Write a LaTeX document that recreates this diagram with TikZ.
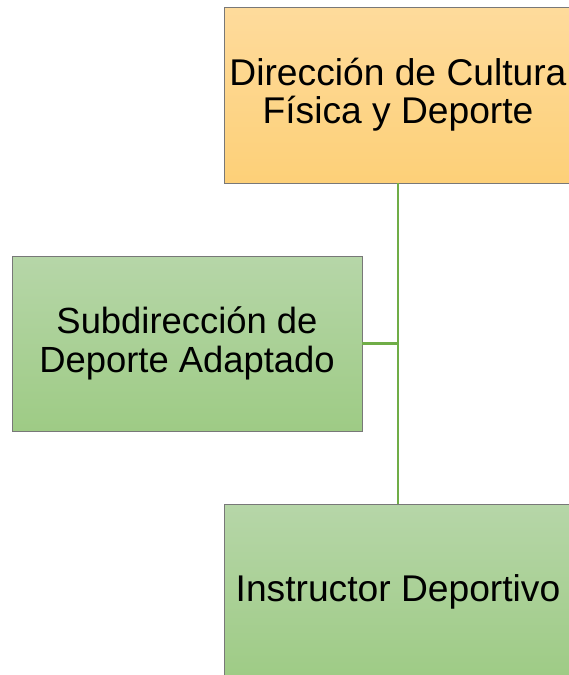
\documentclass[tikz,border=0pt]{standalone}
\usepackage{fontspec}
\setmainfont{Liberation Sans}
\definecolor{orangetop}{RGB}{254,219,156}
\definecolor{orangebot}{RGB}{253,208,120}
\definecolor{greentop}{RGB}{182,214,168}
\definecolor{greenbot}{RGB}{158,203,133}
\definecolor{linkgreen}{RGB}{112,173,71}
\definecolor{boxgray}{RGB}{120,120,120}

\begin{document}
\begin{tikzpicture}[x=1pt,y=1pt,
  unit/.style={draw=boxgray,line width=0.8pt,align=center,inner sep=0pt,
    font=\fontsize{37.2}{37.7}\selectfont},
  orangeunit/.style={unit,top color=orangetop,bottom color=orangebot},
  greenunit/.style={unit,top color=greentop,bottom color=greenbot},
  link/.style={draw=linkgreen,line width=2.2pt}]
            \useasboundingbox (0,0) rectangle (569,-675);
            \fill[white] (0,0) rectangle (569,-675);

            \node[orangeunit,minimum width=348,minimum height=176] (direccion) at (398,-95)
            {Dirección de Cultura\\Física y Deporte};
            \node[greenunit,minimum width=350,minimum height=175,
              font=\fontsize{36.4}{38.8}\selectfont] (subdireccion) at (187,-343.5)
            {Subdirección de\\Deporte Adaptado};
            \node[greenunit,minimum width=348,minimum height=176] (instructor) at (398,-592)
            {Instructor Deportivo};

            \coordinate (junta) at (direccion.south |- subdireccion.east);
            \draw[link] (direccion.south) -- (instructor.north);
            \draw[link] (subdireccion.east) -- (junta);
\end{tikzpicture}
\end{document}
